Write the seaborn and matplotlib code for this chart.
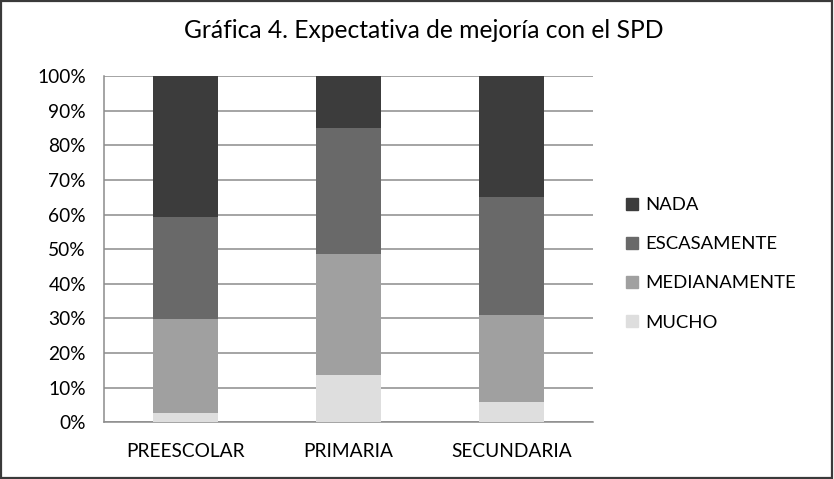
import numpy as np
import matplotlib.pyplot as plt
import seaborn as sns
from matplotlib.patches import Patch, Rectangle
from matplotlib.ticker import PercentFormatter, FixedLocator

# data (percent of each level)
niveles = ['PREESCOLAR', 'PRIMARIA', 'SECUNDARIA']
mucho = [2.6, 13.7, 5.8]
medianamente = [27.1, 34.8, 25.1]
escasamente = [29.7, 36.5, 34.2]
nada = [40.6, 15.0, 34.9]

series = ['MUCHO', 'MEDIANAMENTE', 'ESCASAMENTE', 'NADA']
valores = [mucho, medianamente, escasamente, nada]
colores = ['#dedede', '#a0a0a0', '#696969', '#3c3c3c']

sns.set_style('white')
plt.rcParams['font.family'] = ['Lato', 'DejaVu Sans']
plt.rcParams['text.color'] = 'black'
plt.rcParams['xtick.labelcolor'] = 'black'
plt.rcParams['ytick.labelcolor'] = 'black'

fig = plt.figure(figsize=(8.34, 4.79), dpi=100)
ax = fig.add_axes([0.1247, 0.1184, 0.5863, 0.7229])

# stacked bars: draw cumulative totals from top layer down
acum = np.cumsum(np.array(valores), axis=0)
for i in reversed(range(len(series))):
    sns.barplot(x=niveles, y=acum[i], color=colores[i], width=0.4,
                saturation=1, linewidth=0, ax=ax, zorder=3)

ax.set_ylim(0, 100)
ax.set_xlim(-0.5, 2.5)
ax.set_yticks(np.arange(0, 101, 10))
ax.yaxis.set_major_formatter(PercentFormatter(decimals=0))
ax.yaxis.grid(True, color='#8c8c8c', linewidth=1.1, zorder=0)
ax.set_axisbelow(True)

for s in ['top', 'right']:
    ax.spines[s].set_visible(False)
for s in ['left', 'bottom']:
    ax.spines[s].set_color('#8c8c8c')
    ax.spines[s].set_linewidth(1.1)

ax.tick_params(axis='y', length=7, color='#8c8c8c', width=1.1, labelsize=13.8, pad=6)
ax.tick_params(axis='x', which='major', length=0, labelsize=13.8, pad=15)
ax.xaxis.set_minor_locator(FixedLocator([-0.5, 0.5, 1.5, 2.5]))
ax.tick_params(axis='x', which='minor', length=7, color='#8c8c8c', width=1.1)
ax.set_xlabel('')
ax.set_ylabel('')

fig.suptitle('Gráfica 4. Expectativa de mejoría con el SPD', y=0.96, x=0.508,
             fontsize=17.7)

handles = [Patch(color=colores[i], label=series[i]) for i in reversed(range(len(series)))]
fig.legend(handles=handles, loc='center left', bbox_to_anchor=(0.731, 0.449),
           frameon=False, fontsize=13.3, handlelength=0.65, handleheight=0.65,
           handletextpad=0.4, labelspacing=1.25)

fig.patches.append(Rectangle((0.001, 0.002), 0.997, 0.995, transform=fig.transFigure,
                             fill=False, edgecolor='#3a3a3a', linewidth=1.6))

fig.savefig('out.png', dpi=100)
